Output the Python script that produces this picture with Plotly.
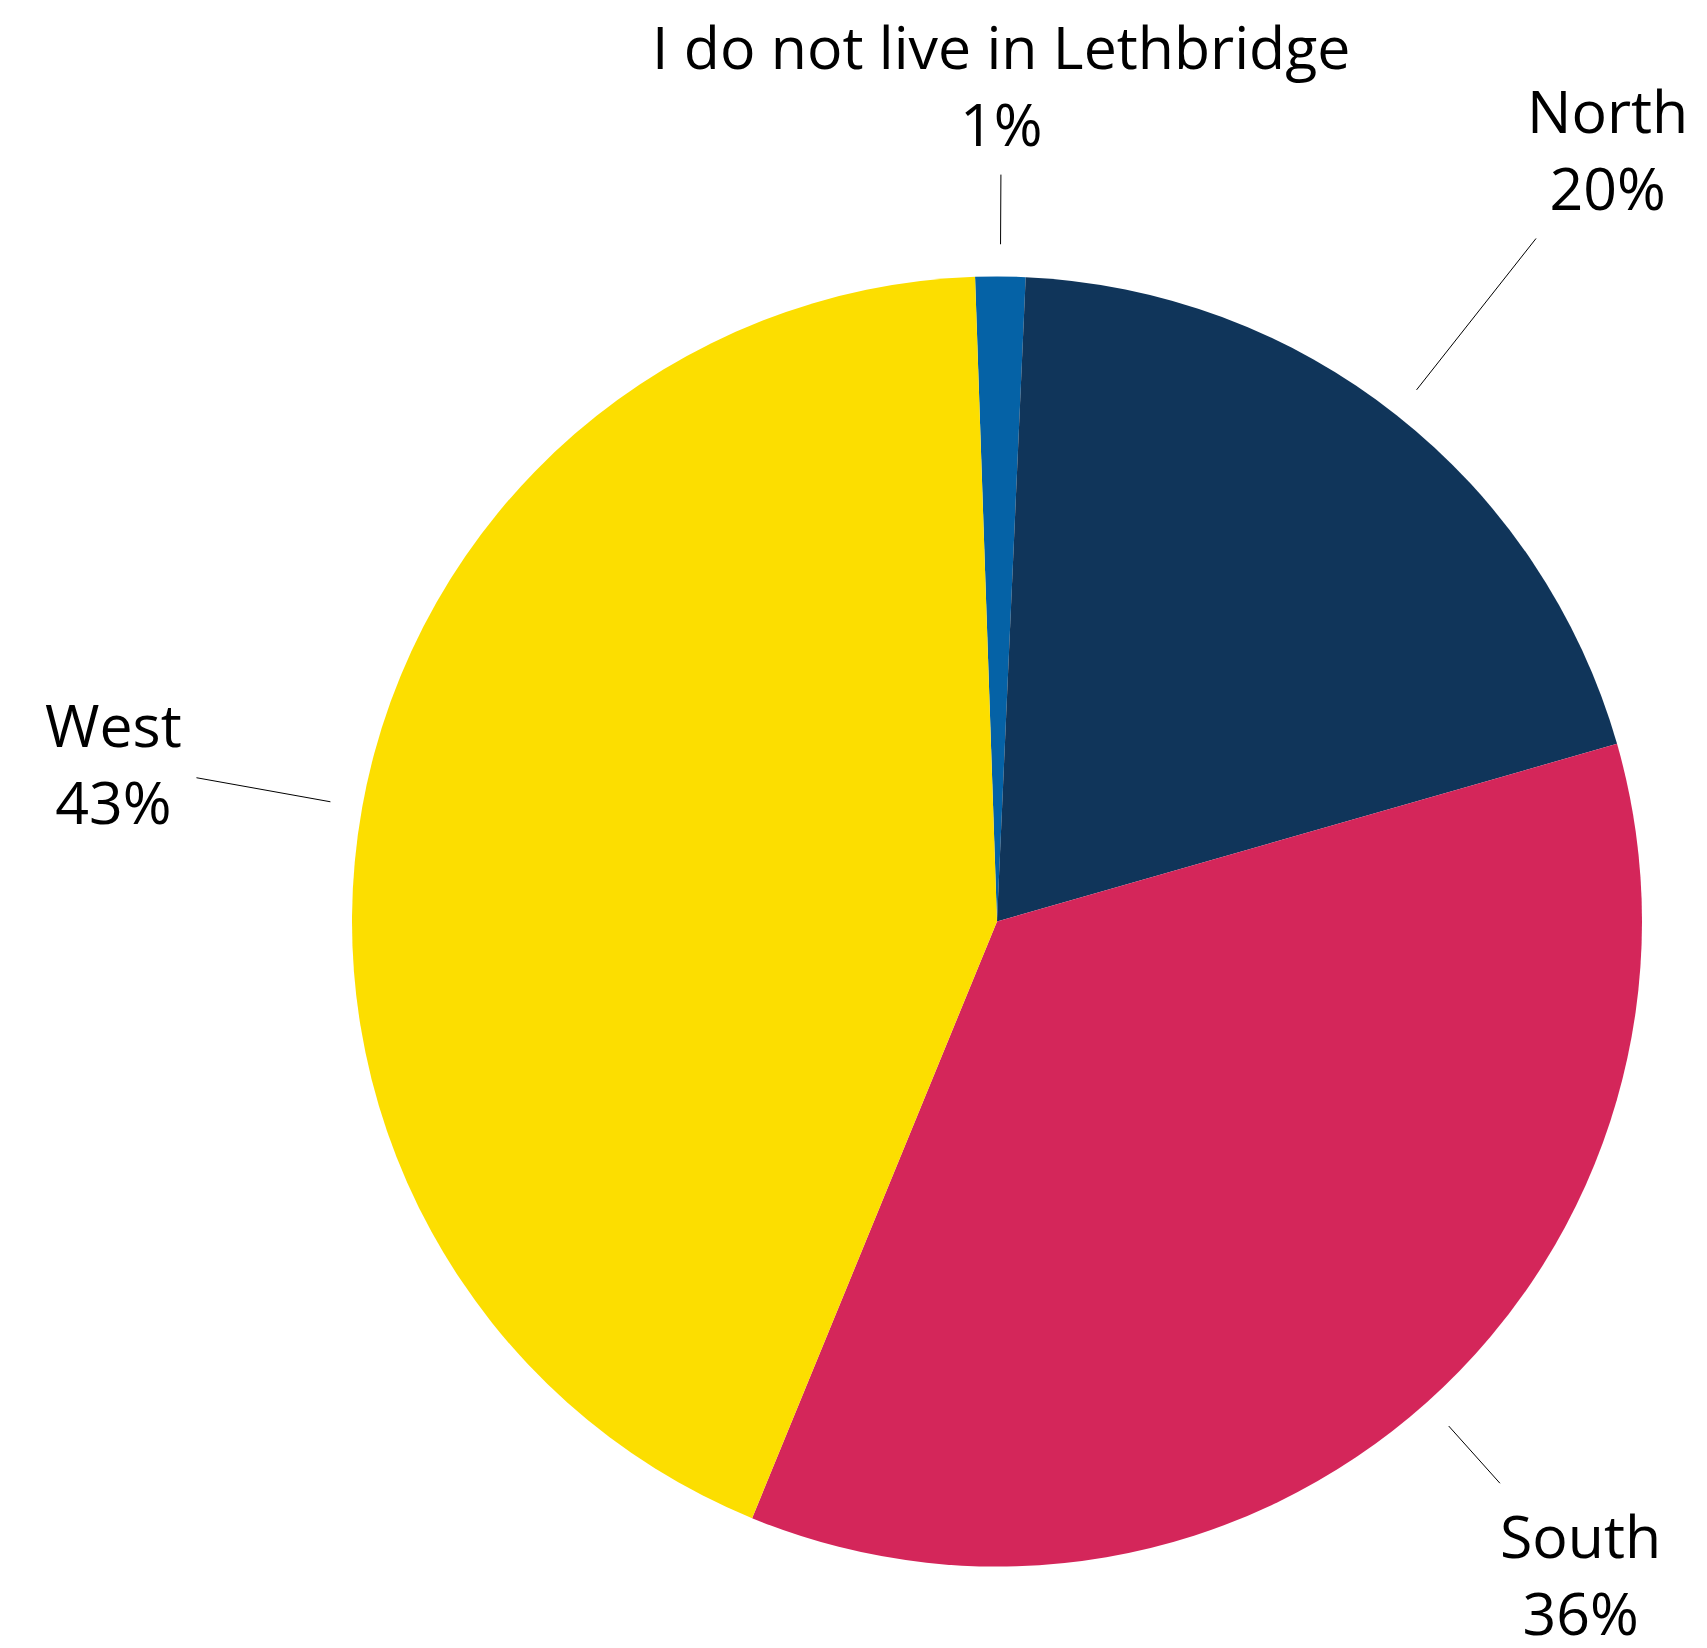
import math
import plotly.graph_objects as go

# ---- data ----
labels = ["I do not live in Lethbridge", "North", "South", "West"]
values = [1.25, 19.85, 35.64, 43.26]
colors = ["#0562A6", "#10355A", "#D4265A", "#FCDE00"]

# ---- layout/style ----
W, H = 1707, 1648
CX, CY, R = 997, 921.5, 645          # pie centre and radius in px
START = -1.95                         # first slice start angle (deg from 12 o'clock)
line_in = [1.05, 1.05, 1.05, 1.05]    # leader start (x R)
line_out = [1.158, 1.349, 1.169, 1.261]
label_r = [1.297, 1.527, 1.357, 1.391]
FONT = dict(family="Open Sans", size=59, color="#000000")

fig = go.Figure(
    go.Pie(
        labels=labels,
        values=values,
        sort=False,
        direction="clockwise",
        rotation=START,
        marker=dict(colors=colors, line=dict(width=0)),
        textinfo="none",
        hoverinfo="label+percent",
        domain=dict(x=[(CX - R) / W, (CX + R) / W],
                    y=[1 - (CY + R) / H, 1 - (CY - R) / H]),
    )
)

total = sum(values)
cum = 0.0
annotations = []
shapes = []


def to_paper(r, ang):
    a = math.radians(ang)
    px = CX + r * math.sin(a)
    py = CY - r * math.cos(a)
    return px / W, 1 - py / H


for i, (lab, v) in enumerate(zip(labels, values)):
    mid = START + 360 * (cum + v / 2) / total
    cum += v
    pct = round(100 * v / total)
    x0, y0 = to_paper(line_in[i] * R, mid)
    x1, y1 = to_paper(line_out[i] * R, mid)
    shapes.append(dict(type="line", xref="paper", yref="paper",
                       x0=x0, y0=y0, x1=x1, y1=y1,
                       line=dict(color="#000000", width=1)))
    lx, ly = to_paper(label_r[i] * R, mid)
    annotations.append(dict(xref="paper", yref="paper", x=lx, y=ly,
                            xanchor="center", yanchor="middle",
                            text=f"{lab}<br>{pct}%", showarrow=False,
                            font=FONT, align="center"))

fig.update_layout(
    width=W, height=H,
    margin=dict(l=0, r=0, t=0, b=0),
    paper_bgcolor="white",
    plot_bgcolor="white",
    showlegend=False,
    annotations=annotations,
    shapes=shapes,
)

fig.write_html("out.html",
               config={"displayModeBar": False},
               post_script="document.body.style.margin='0';document.body.style.overflow='hidden';")
